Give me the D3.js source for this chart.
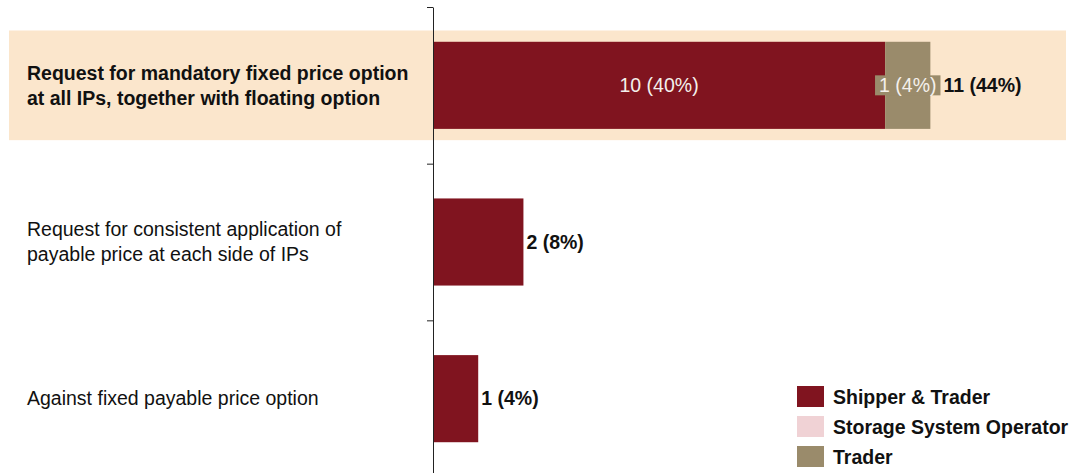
<!DOCTYPE html>
<html>
<head>
<meta charset="utf-8">
<script src="https://cdn.jsdelivr.net/npm/d3@7"></script>
<style>
  html, body { margin: 0; padding: 0; background: #fff; }
  svg { display: block; font-family: "Liberation Sans", Arial, sans-serif; }
</style>
</head>
<body>
<svg id="chart" width="1071" height="473"></svg>
<script>
// Categories (top to bottom), each label split into its display lines
const categories = [
  "Request for mandatory fixed price option at all IPs, together with floating option",
  "Request for consistent application of payable price at each side of IPs",
  "Against fixed payable price option"
];
const categoryLines = [
  ["Request for mandatory fixed price option", "at all IPs, together with floating option"],
  ["Request for consistent application of", "payable price at each side of IPs"],
  ["Against fixed payable price option"]
];
const highlighted = [true, false, false];

// Respondent counts per series
const seriesNames = ["Shipper & Trader", "Storage System Operator", "Trader"];
const shipperTrader = [10, 2, 1];
const storageOperator = [0, 0, 0];
const trader = [1, 0, 0];
const totalRespondents = 25;

const colors = ["#80141f", "#f0d2d5", "#9a8b6b"];
const FS = 19.5;

const svg = d3.select("#chart");

const x = d3.scaleLinear().domain([0, 14]).range([433, 1066]);
const y = d3.scaleBand().domain(categories).range([7, 477]).padding(0);
const barH = y.step() * 0.556;
const hlH = y.step() * 0.7;

const pct = v => `${v} (${Math.round(v / totalRespondents * 100)}%)`;

// Stack the series
const rows = categories.map((c, i) => ({
  cat: c, "Shipper & Trader": shipperTrader[i],
  "Storage System Operator": storageOperator[i], "Trader": trader[i]
}));
const stacked = d3.stack().keys(seriesNames)(rows);

// Highlight band behind the emphasised category
svg.append("g").selectAll("rect")
  .data(categories.filter((c, i) => highlighted[i]))
  .join("rect")
  .attr("x", 9).attr("width", 1066 - 9)
  .attr("y", c => y(c) + (y.step() - hlH) / 2)
  .attr("height", hlH)
  .attr("fill", "#fbe6cc");

// Bars
const layers = svg.append("g").selectAll("g")
  .data(stacked).join("g")
  .attr("fill", (d, i) => colors[i]);
layers.selectAll("rect")
  .data(d => d.filter(s => s[1] - s[0] > 0))
  .join("rect")
  .attr("x", d => x(d[0]))
  .attr("width", d => x(d[1]) - x(d[0]))
  .attr("y", d => y(d.data.cat) + (y.step() - barH) / 2)
  .attr("height", barH);

// Segment labels (only on multi-segment bars); remember the right edge used
const labelRight = categories.map(() => 0);
stacked.forEach((layer, si) => {
  layer.forEach((s, ci) => {
    const v = s[1] - s[0];
    const nonZero = stacked.filter(l => l[ci][1] - l[ci][0] > 0).length;
    if (v <= 0 || nonZero < 2) return;
    const cx = (x(s[0]) + x(s[1])) / 2;
    const cy = y(categories[ci]) + y.step() / 2;
    const g = svg.append("g");
    const t = g.append("text")
      .attr("x", cx).attr("y", cy).attr("dy", "0.35em")
      .attr("text-anchor", "middle")
      .attr("font-size", FS).attr("fill", "#f4f0ec")
      .text(pct(v));
    const bb = t.node().getBBox();
    let right = x(s[1]);
    if (bb.width > x(s[1]) - x(s[0])) {
      g.insert("rect", "text")
        .attr("x", bb.x - 4).attr("y", cy - 10)
        .attr("width", bb.width + 8).attr("height", 20)
        .attr("fill", colors[si]);
      right = Math.max(right, bb.x + bb.width + 4);
    }
    labelRight[ci] = Math.max(labelRight[ci], right);
  });
});

// Total labels
const totals = categories.map((c, i) => shipperTrader[i] + storageOperator[i] + trader[i]);
svg.append("g").selectAll("text")
  .data(categories)
  .join("text")
  .attr("x", (c, i) => Math.max(x(totals[i]), labelRight[i]) + 3)
  .attr("y", c => y(c) + y.step() / 2)
  .attr("dy", "0.35em")
  .attr("font-size", FS).attr("font-weight", "bold").attr("fill", "#111")
  .text((c, i) => pct(totals[i]));

// Category axis with boundary ticks
const yEdges = d3.scaleLinear().domain([0, categories.length]).range([7, 477]);
svg.append("g")
  .attr("transform", `translate(${x(0)},0)`)
  .call(d3.axisLeft(yEdges).tickValues([0, 1, 2]).tickSize(6).tickSizeOuter(0).tickFormat(""))
  .call(g => g.selectAll("path,line").attr("stroke", "#222"));

// Category labels
const lineGap = 25;
svg.append("g").selectAll("text")
  .data(categories)
  .join("text")
  .attr("x", 27)
  .attr("font-size", FS)
  .attr("font-weight", (c, i) => highlighted[i] ? "bold" : "normal")
  .attr("fill", "#111")
  .each(function(c, i) {
    const lines = categoryLines[i];
    const t = d3.select(this);
    lines.forEach((ln, k) => {
      t.append("tspan")
        .attr("x", 27)
        .attr("y", y(c) + y.step() / 2 + (k - (lines.length - 1) / 2) * lineGap)
        .attr("dy", "0.35em")
        .text(ln);
    });
  });

// Legend
const legend = svg.append("g").attr("transform", "translate(797,386)");
const item = legend.selectAll("g").data(seriesNames).join("g")
  .attr("transform", (d, i) => `translate(0,${i * 30})`);
item.append("rect").attr("width", 27).attr("height", 21).attr("fill", (d, i) => colors[i]);
item.append("text").attr("x", 36).attr("y", 11).attr("dy", "0.35em")
  .attr("font-size", FS).attr("font-weight", "bold").attr("fill", "#111")
  .text(d => d);
</script>
</body>
</html>
